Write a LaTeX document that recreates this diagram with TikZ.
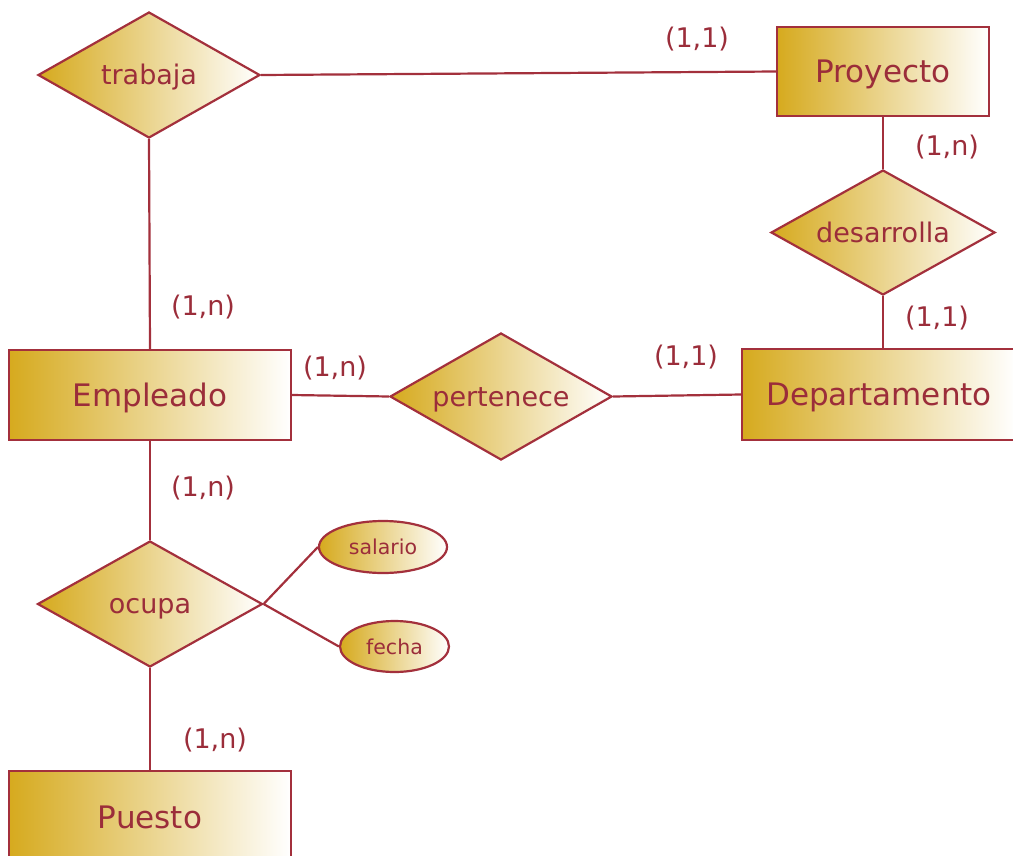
\documentclass[tikz,border=0pt]{standalone}
\usepackage{fontspec}
\setmainfont{DejaVu Sans}
\usetikzlibrary{shapes.geometric}
\usepackage{xcolor}

\definecolor{borde}{HTML}{A3303C}
\definecolor{oro}{HTML}{D6AA1E}
\definecolor{texto}{HTML}{9B2D3A}

\tikzset{
    linea/.style={draw=borde, line width=2.2pt},
    entidad/.style={rectangle, linea, left color=oro, right color=white, text=texto,
        inner sep=0pt, text height=22pt, text depth=0pt, font=\fontsize{31}{31}\selectfont},
    relacion/.style={diamond, aspect=1.76, linea, left color=oro, right color=white, text=texto,
        inner sep=0pt, text height=19pt, text depth=0pt,
        minimum width=222pt, minimum height=126pt, font=\fontsize{27}{27}\selectfont},
    atributo/.style={ellipse, linea, left color=oro, right color=white, text=texto,
        inner sep=0pt, font=\fontsize{20.5}{20.5}\selectfont},
    card/.style={text=texto, font=\fontsize{27}{27}\selectfont}
}

\begin{document}
\begin{tikzpicture}[x=1pt, y=-1pt]

\useasboundingbox (0,0) rectangle (1013,855);

% Entidades
\node[entidad, minimum width=212pt, minimum height=89pt] (proyecto) at (883,71.5) {Proyecto};
\node[entidad, minimum width=282pt, minimum height=90pt] (empleado) at (150,395) {Empleado};
\node[entidad, minimum width=274pt, minimum height=91pt] (departamento) at (879,394.5) {Departamento};
\node[entidad, minimum width=282pt, minimum height=92pt] (puesto) at (150,817) {Puesto};

% Relaciones
\node[relacion] (trabaja) at (149,75) {trabaja};
\node[relacion, minimum width=224pt, minimum height=125pt] (desarrolla) at (883,232.5) {desarrolla};
\node[relacion, minimum height=127pt] (pertenece) at (501,396.5) {pertenece};
\node[relacion, minimum width=225pt] (ocupa) at (150,604) {ocupa};

% Atributos
\node[atributo, minimum width=128pt, minimum height=52pt] (salario) at (383,547) {salario};
\node[atributo, minimum width=109pt, minimum height=51pt] (fecha) at (394.5,646.5) {fecha};

% Lineas
\draw[linea] (trabaja.east) -- (proyecto.west);
\draw[linea] (trabaja.south) -- (empleado.north);
\draw[linea] (proyecto.south) -- (desarrolla.north);
\draw[linea] (desarrolla.south) -- (desarrolla.south |- departamento.north);
\draw[linea] (empleado.east) -- (pertenece.west);
\draw[linea] (pertenece.east) -- (departamento.west);
\draw[linea] (empleado.south) -- (ocupa.north);
\draw[linea] (ocupa.south) -- (puesto.north);
\foreach \a in {salario,fecha} {
    \draw[linea] (ocupa.east) -- (\a.west);
}

% Cardinalidades
\node[card] (c1) at (697,39) {(1,1)};
\node[card] (c2) at (947,147) {(1,n)};
\node[card] (c3) at (937,318) {(1,1)};
\node[card] (c4) at (203,307) {(1,n)};
\node[card] (c5) at (335,368) {(1,n)};
\node[card] (c6) at (686,357) {(1,1)};
\node[card] (c7) at (203,488) {(1,n)};
\node[card] (c8) at (215,740) {(1,n)};

\end{tikzpicture}
\end{document}
